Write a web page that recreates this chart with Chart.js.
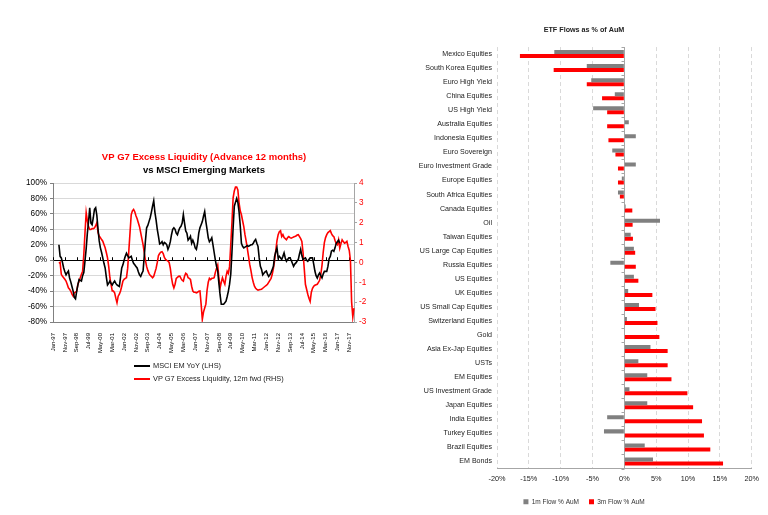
<!DOCTYPE html>
<html lang="en">
<head>
<meta charset="UTF-8">
<title>Excess liquidity vs EM / ETF flows</title>
<script src="https://cdn.jsdelivr.net/npm/chart.js@4.4.0/dist/chart.umd.min.js"></script>
<style>
    html, body { margin: 0; padding: 0; background: #fff; }
    body { width: 768px; height: 515px; position: relative; overflow: hidden;
           font-family: 'Liberation Sans', Arial, sans-serif; }
    #leftBox { position: absolute; left: 20px; top: 145px; width: 368px; height: 222px; }
    #rightBox { position: absolute; left: 415px; top: 15px; width: 350px; height: 500px; }
    #liqLegend { position: absolute; left: 134px; top: 359px; font-size: 7.4px; color: #222; }
    #liqLegend .row { height: 13px; line-height: 13px; white-space: nowrap; }
    #liqLegend .swatch { display: inline-block; width: 16px; height: 2.5px; margin-right: 3px; vertical-align: middle; }
</style>
</head>
<body>
<div id="leftBox"><canvas id="liqChart"></canvas></div>
<div id="liqLegend"></div>
<div id="rightBox"><canvas id="etfChart"></canvas></div>

<script>
    // ---- left chart: monthly, Jan-97 .. Mar-18 ----
    // MSCI EM YoY in %, left axis
    var msciEmYoy = [
        null, null, null, null, null, 20, 5, 3, -3, -10,
        -15, -19, -16, -14, -23, -28, -34, -40, -48, -50,
        -40, -32, -25, -26, -27, -20, -16, -1, 15, 35,
        50, 68, 48, 46, 55, 66, 68, 58, 40, 25,
        16, 10, 3, -4, -10, -22, -32, -30, -27, -30,
        -32, -29, -27, -30, -32, -33, -34, -22, -10, -6,
        0, 5, 9, 6, 3, 4, 5, 0, -4, -6,
        -8, -10, -15, -19, -21, -17, -14, 5, 25, 42,
        45, 50, 55, 62, 70, 77, 62, 52, 40, 31,
        21, 22, 24, 20, 23, 22, 20, 14, 18, 24,
        33, 40, 42, 40, 35, 33, 38, 42, 44, 48,
        59, 48, 38, 35, 26, 28, 31, 22, 26, 22,
        16, 14, 22, 35, 42, 46, 50, 57, 63, 50,
        40, 29, 24, 26, 29, 20, 10, 0, -8, -14,
        -30, -45, -57, -57, -57, -55, -53, -47, -40, -31,
        -18, 10, 42, 70, 75, 80, 75, 63, 45, 22,
        18, 16, 17, 18, 19, 18, 19, 20, 20, 22,
        25, 27, 22, 18, 3, -8, -12, -19, -17, -15,
        -14, -18, -21, -19, -16, -12, -8, 5, 11, 16,
        3, 5, 3, 1, 5, 9.5, 3, -1.4, 1, 3,
        3, 0, -4, -8, -5, -3.5, -1, 1, 8, 14,
        6, 1, 2, 3, 0, -1.4, 1, 3, 3, 3,
        -5, -14, -20, -23, -19, -16.5, -20, -23, -18, -14.5,
        -14.5, -14.5, -8, 2, 5, 12, 13, 11.5, 16, 22,
        24, 26, 22, null, null, null, null, null, null, null,
        null, null, null, null, null
    ];
    // VP G7 excess liquidity, 12m forward, right axis
    var g7Liquidity = [
        null, null, null, null, null, -0.05, 0, -0.6, -0.7, -0.77,
        -0.85, -0.94, -1.1, -1.28, -1.35, -1.44, -1.6, -1.7, -1.53, -1.5,
        -1.44, -1.1, -0.95, -0.77, -0.6, -0.44, 0.4, 1.5, 2.5, 2.08,
        1.8, 1.66, 1.66, 1.7, 1.7, 1.74, 1.85, 2.0, 1.5, 1.33,
        1.25, 1.15, 1.07, 0.9, 0.74, 0.5, 0.23, -0.2, -0.77, -1.1,
        -1.44, -1.44, -1.53, -1.8, -2.03, -1.7, -1.6, -1.44, -1.2, -0.94,
        -0.85, -0.8, -0.77, -0.3, 0.6, 1.5, 2.4, 2.6, 2.67, 2.55,
        2.35, 2.2, 2.0, 1.8, 1.5, 1.2, 0.9, 0.5, 0.1, -0.2,
        -0.4, -0.55, -0.65, -0.7, -0.77, -0.7, -0.5, -0.3, 0.0, 0.35,
        0.45, 0.52, 0.54, 0.45, 0.25, 0.15, 0.1, 0.07, 0.0, -0.3,
        -0.77, -1.1, -1.28, -1.1, -0.8, -0.75, -0.7, -0.69, -0.8, -0.9,
        -0.94, -0.7, -0.55, -0.6, -0.77, -0.8, -0.86, -1.2, -1.44, -1.5,
        -1.5, -1.53, -1.5, -1.45, -1.44, -2.1, -2.87, -2.5, -2.3, -2.1,
        -1.4, -1.0, -0.8, -0.86, -0.8, -0.8, -0.77, -0.5, -0.3, -0.13,
        -0.8, -1.28, -1.0, -0.77, -0.95, -1.1, -0.7, -0.44, -0.55, -0.2,
        0.9, 2.0, 3.25, 3.6, 3.8, 3.8, 3.65, 3.0, 2.6, 2.4,
        2.1, 1.8, 1.4, 1.07, 0.7, 0.3, -0.1, -0.4, -0.75, -1.0,
        -1.2, -1.3, -1.36, -1.4, -1.38, -1.36, -1.35, -1.3, -1.25, -1.2,
        -1.15, -1.1, -1.0, -0.9, -0.8, -0.6, -0.3, 0.1, 0.6, 1.1,
        1.4, 1.55, 1.6, 1.3, 1.4, 1.25, 1.2, 1.14, 1.25, 1.3,
        1.25, 1.22, 1.25, 1.28, 1.3, 1.33, 1.38, 1.4, 1.3, 1.2,
        1.06, 0.5, -0.3, -1.1, -1.35, -1.6, -1.8, -1.96, -1.5, -1.3,
        -1.2, -1.15, -1.12, -1.1, -1.0, -0.9, -0.6, -0.15, 0.5, 1.0,
        1.25, 1.4, 1.5, 1.55, 1.6, 1.45, 1.35, 1.3, 1.1, 0.95,
        0.89, 1.14, 0.72, 0.95, 1.14, 1.05, 0.97, 1.0, 1.06, 0.8,
        0.6, 0.1, -2.0, -2.75, -2.3
    ];
    var liqSeriesNames = ['MSCI EM YoY (LHS)', 'VP G7 Excess Liquidity, 12m fwd (RHS)'];
    var liqTitle = 'VP G7 Excess Liquidity (Advance 12 months)';
    var liqSubtitle = 'vs MSCI Emerging Markets';

    // month labels, every 10th one is shown
    var monthNames = ['Jan', 'Feb', 'Mar', 'Apr', 'May', 'Jun', 'Jul', 'Aug', 'Sep', 'Oct', 'Nov', 'Dec'];
    var months = [];
    for (var i = 0; i < msciEmYoy.length; i++) {
        var yy = (97 + Math.floor(i / 12)) % 100;
        months.push(monthNames[i % 12] + '-' + (yy < 10 ? '0' + yy : yy));
    }

    // ---- right chart: ETF flows ----
    var etfNames = ['Mexico Equities', 'South Korea Equities', 'Euro High Yield', 'China Equities',
        'US High Yield', 'Australia Equities', 'Indonesia Equities', 'Euro Sovereign',
        'Euro Investment Grade', 'Europe Equities', 'South Africa Equities', 'Canada Equities',
        'Oil', 'Taiwan Equities', 'US Large Cap Equities', 'Russia Equities', 'US Equities',
        'UK Equities', 'US Small Cap Equities', 'Switzerland Equities', 'Gold',
        'Asia Ex-Jap Equities', 'USTs', 'EM Equities', 'US Investment Grade', 'Japan Equities',
        'India Equities', 'Turkey Equities', 'Brazil Equities', 'EM Bonds'];
    var flow1m = [-11.0, -5.9, -5.2, -1.5, -4.9, 0.7, 1.8, -1.9, 1.8, -0.4, -1.0, 0.2, 5.6, 1.0,
        1.5, -2.2, 1.5, 0.6, 2.3, 0.4, 0, 4.1, 2.2, 3.6, 0.8, 3.6, -2.7, -3.2, 3.2, 4.5];
    var flow3m = [-16.4, -11.1, -5.9, -3.5, -2.7, -2.7, -2.5, -1.4, -1.0, -1.0, -0.7, 1.25, 1.3, 1.35,
        1.7, 1.8, 2.2, 4.4, 4.9, 5.2, 5.5, 6.8, 6.8, 7.4, 9.9, 10.8, 12.2, 12.5, 13.5, 15.5];
    var etfSeriesNames = ['1m Flow % AuM', '3m Flow % AuM'];
    var etfTitle = 'ETF Flows as % of AuM';

    Chart.defaults.font.family = "'Liberation Sans', Arial, sans-serif";
    Chart.defaults.color = '#222';

    var liqColors = ['#000000', '#ff0000'];

    // small tick marks sitting on the zero line of the left chart
    var zeroTicksLeft = {
        id: 'zeroTicksLeft',
        beforeDatasetsDraw: function (chart) {
            var c = chart.ctx, x = chart.scales.x, y0 = chart.scales.y.getPixelForValue(0);
            c.save();
            c.strokeStyle = '#000';
            c.lineWidth = 1;
            c.beginPath();
            for (var i = 0; i < months.length; i += 10) {
                var px = Math.round(x.getPixelForValue(i)) + 0.5;
                c.moveTo(px, y0);
                c.lineTo(px, y0 - 3);
            }
            c.stroke();
            c.restore();
        }
    };

    var liqChart = new Chart(document.getElementById('liqChart'), {
        type: 'line',
        data: {
            labels: months,
            datasets: [{
                label: liqSeriesNames[0],
                data: msciEmYoy,
                borderColor: liqColors[0],
                borderWidth: 1.6,
                pointRadius: 0,
                yAxisID: 'y'
            }, {
                label: liqSeriesNames[1],
                data: g7Liquidity,
                borderColor: liqColors[1],
                borderWidth: 1.6,
                pointRadius: 0,
                yAxisID: 'y1'
            }]
        },
        options: {
            animation: false,
            responsive: true,
            maintainAspectRatio: false,
            plugins: {
                legend: { display: false },
                tooltip: { enabled: false },
                title: {
                    display: true, text: liqTitle, color: '#ff0000',
                    font: { size: 9.5, weight: 'bold' },
                    padding: { top: 6.6, bottom: 0.6 }
                },
                subtitle: {
                    display: true, text: liqSubtitle, color: '#000',
                    font: { size: 9.5, weight: 'bold' },
                    padding: { top: 0.7, bottom: 7.3 }
                }
            },
            scales: {
                x: {
                    grid: { display: false },
                    border: { color: '#808080' },
                    ticks: {
                        autoSkip: false, maxRotation: 90, minRotation: 90,
                        font: { size: 6 }, color: '#000', padding: 3,
                        callback: function (v, i) { return i % 10 === 0 ? this.getLabelForValue(v) : ''; }
                    },
                    afterFit: function (s) { s.height = 45; }
                },
                y: {
                    position: 'left', min: -80, max: 100,
                    ticks: { stepSize: 20, font: { size: 8.2 }, color: '#000', padding: 3,
                        callback: function (v) { return v + '%'; } },
                    grid: {
                        color: function (c) { return c.tick && c.tick.value === 0 ? '#000' : '#d9d9d9'; },
                        tickColor: '#808080', tickLength: 3
                    },
                    border: { color: '#808080' },
                    afterFit: function (s) { s.width = 33; }
                },
                y1: {
                    position: 'right', min: -3, max: 4,
                    ticks: { stepSize: 1, font: { size: 8.2 }, color: '#ff0000', padding: 2 },
                    grid: { drawOnChartArea: false, tickLength: 3, tickColor: '#a6a6a6' },
                    border: { color: '#a6a6a6' },
                    afterFit: function (s) { s.width = 34; }
                }
            }
        },
        plugins: [zeroTicksLeft]
    });

    // html legend for the left chart (two stacked rows)
    var lg = document.getElementById('liqLegend');
    liqSeriesNames.forEach(function (name, k) {
        var row = document.createElement('div');
        row.className = 'row';
        var sw = document.createElement('span');
        sw.className = 'swatch';
        sw.style.background = liqColors[k];
        row.appendChild(sw);
        row.appendChild(document.createTextNode(name));
        lg.appendChild(row);
    });

    // solid zero axis with small category ticks for the bar chart
    var zeroAxis = {
        id: 'zeroAxis',
        beforeDatasetsDraw: function (chart) {
            var c = chart.ctx, area = chart.chartArea;
            var x0 = Math.round(chart.scales.x.getPixelForValue(0)) + 0.5;
            c.save();
            c.strokeStyle = '#a6a6a6';
            c.lineWidth = 1;
            c.beginPath();
            c.moveTo(x0, area.top);
            c.lineTo(x0, area.bottom);
            for (var i = 0; i <= etfNames.length; i++) {
                var py = Math.round(chart.scales.y.getPixelForValue(i - 0.5)) + 0.5;
                c.moveTo(x0 - 3, py);
                c.lineTo(x0, py);
            }
            c.stroke();
            c.restore();
        }
    };

    var etfChart = new Chart(document.getElementById('etfChart'), {
        type: 'bar',
        data: {
            labels: etfNames,
            datasets: [{
                label: etfSeriesNames[0],
                data: flow1m,
                backgroundColor: '#808080'
            }, {
                label: etfSeriesNames[1],
                data: flow3m,
                backgroundColor: '#ff0000'
            }]
        },
        options: {
            indexAxis: 'y',
            animation: false,
            responsive: true,
            maintainAspectRatio: false,
            datasets: { bar: { categoryPercentage: 0.57, barPercentage: 1 } },
            layout: { padding: { right: 12 } },
            plugins: {
                tooltip: { enabled: false },
                title: {
                    display: true, text: etfTitle, color: '#222',
                    font: { size: 7.2, weight: 'bold' },
                    padding: { top: 10.7, bottom: 12.7 }
                },
                legend: {
                    position: 'bottom',
                    labels: { boxWidth: 5, boxHeight: 5, padding: 10, font: { size: 6.5 }, color: '#333' }
                }
            },
            scales: {
                x: {
                    min: -20, max: 20,
                    ticks: { stepSize: 5, font: { size: 7.3 }, color: '#222', padding: 6,
                        callback: function (v) { return v + '%'; } },
                    grid: { color: '#d9d9d9', drawTicks: false },
                    border: { color: '#a6a6a6', dash: [4, 3] },
                    afterFit: function (s) { s.height = 20; }
                },
                y: {
                    grid: { display: false, drawTicks: false, tickLength: 0 },
                    border: { display: false },
                    ticks: { font: { size: 7.1 }, color: '#222', padding: 5, autoSkip: false },
                    afterFit: function (s) { s.width = 82; }
                }
            }
        },
        plugins: [zeroAxis]
    });
</script>
</body>
</html>
